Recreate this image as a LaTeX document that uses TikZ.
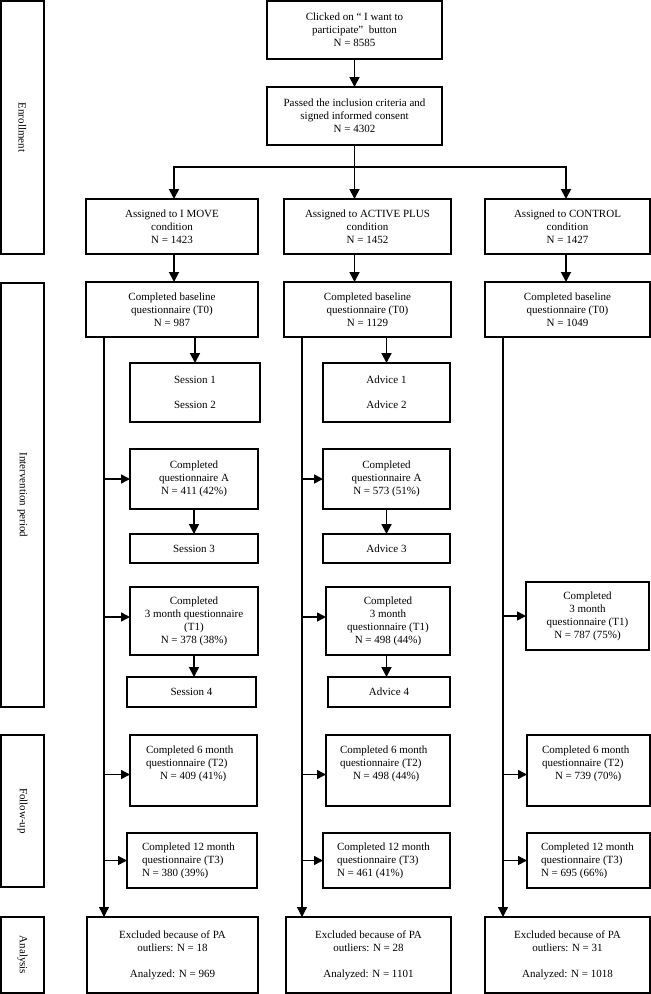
\documentclass[tikz,border=0pt]{standalone}
\usepackage{fontspec}
\setmainfont{Liberation Serif}
\usetikzlibrary{arrows.meta}
\begin{document}
\begin{tikzpicture}[x=1pt,y=-1pt,
  box/.style={draw, line width=1.8pt, inner sep=0pt, outer sep=0pt, align=center, font=\fontsize{11}{13}\selectfont},
  txt/.style={inner sep=0pt, outer sep=0pt, font=\fontsize{11}{13}\selectfont},
  conn/.style={line width=1.8pt},
  arr/.style={line width=1.8pt, -{Triangle[length=10pt,width=10pt]}},
  vline/.style={line width=1.3pt, -{Triangle[length=10pt,width=10pt]}},
  harr/.style={line width=1.5pt, -{Triangle[length=9pt,width=9pt]}},
]
\useasboundingbox (0,0) rectangle (651,994);

% stage labels
\node[box, minimum width=43pt, minimum height=253pt] (enr) at (22.5,127.5) {};
\node[txt, rotate=-90] (enrT) at (enr.center) {Enrollment};
\node[box, minimum width=43pt, minimum height=424pt] (int) at (22.5,495) {};
\node[txt, rotate=-90] (intT) at (int.center) {Intervention period};
\node[box, minimum width=43pt, minimum height=152pt] (fol) at (22.5,811) {};
\node[txt, rotate=-90] (folT) at (fol.center) {Follow-up};
\node[box, minimum width=43pt, minimum height=76pt] (ana) at (22.5,955) {};
\node[txt, rotate=-90] (anaT) at (ana.center) {Analysis};

% enrollment
\node[box, minimum width=175pt, minimum height=58pt] (top) at (354.5,30) {Clicked on “\ I want to\\participate”~ button\\N = 8585};
\node[box, minimum width=175pt, minimum height=58pt] (incl) at (354.5,116) {Passed the inclusion criteria and\\signed informed consent\\N = 4302};

\node[box, minimum width=172pt, minimum height=55pt] (asgL) at (172,226.5) {Assigned to I MOVE\\condition\\N = 1423};
\node[box, minimum width=167pt, minimum height=55pt] (asgM) at (367.5,226.5) {Assigned to ACTIVE PLUS\\condition\\N = 1452};
\node[box, minimum width=165pt, minimum height=55pt] (asgR) at (567.5,226.5) {Assigned to CONTROL\\condition\\N = 1427};

\node[box, minimum width=172pt, minimum height=55pt] (baseL) at (172,309.5) {Completed baseline\\questionnaire (T0)\\N = 987};
\node[box, minimum width=167pt, minimum height=55pt] (baseM) at (367.5,309.5) {Completed baseline\\questionnaire (T0)\\N = 1129};
\node[box, minimum width=165pt, minimum height=55pt] (baseR) at (567.5,309.5) {Completed baseline\\questionnaire (T0)\\N = 1049};

% intervention
\node[box, minimum width=130pt, minimum height=59pt] (s12) at (195,392.5) {Session 1\\[12pt]Session 2};
\node[box, minimum width=127pt, minimum height=59pt] (a12) at (386.5,392.5) {Advice 1\\[12pt]Advice 2};
\node[box, minimum width=128pt, minimum height=60pt] (qAL) at (194,479) {Completed\\questionnaire A\\N = 411 (42\%)};
\node[box, minimum width=127pt, minimum height=60pt] (qAM) at (386.5,479) {Completed\\questionnaire A\\N = 573 (51\%)};
\node[box, minimum width=128pt, minimum height=29pt] (s3) at (194,548.5) {Session 3};
\node[box, minimum width=127pt, minimum height=29pt] (a3) at (386.5,548.5) {Advice 3};
\node[box, minimum width=128pt, minimum height=68pt] (m3L) at (194,621) {Completed\\3 month questionnaire\\(T1)\\N = 378 (38\%)};
\node[box, minimum width=124pt, minimum height=68pt] (m3M) at (388,621) {Completed\\3 month\\questionnaire (T1)\\N = 498 (44\%)};
\node[box, minimum width=123pt, minimum height=68pt] (m3R) at (587.5,616) {Completed\\3 month\\questionnaire (T1)\\N = 787 (75\%)};
\node[box, minimum width=129pt, minimum height=30pt] (s4) at (191.5,692) {Session 4};
\node[box, minimum width=122pt, minimum height=30pt] (a4) at (389,692) {Advice 4};

% follow-up
\node[box, minimum width=127pt, minimum height=71pt] (m6L) at (193.5,770.5) {};
\node[box, minimum width=124pt, minimum height=71pt] (m6M) at (388,770.5) {};
\node[box, minimum width=123pt, minimum height=71pt] (m6R) at (588.5,770.5) {};
\node[txt, anchor=west, align=left] (m6LT) at ([xshift=16pt,yshift=7pt]m6L.west) {Completed 6 month\\questionnaire (T2)\\\hspace*{14pt}N = 409 (41\%)};
\node[txt, anchor=west, align=left] (m6MT) at ([xshift=14pt,yshift=7pt]m6M.west) {Completed 6 month\\questionnaire (T2)\\\hspace*{13pt}N = 498 (44\%)};
\node[txt, anchor=west, align=left] (m6RT) at ([xshift=15pt,yshift=7pt]m6R.west) {Completed 6 month\\questionnaire (T2)\\\hspace*{13pt}N = 739 (70\%)};

\node[box, minimum width=130pt, minimum height=55pt] (m12L) at (192,860.5) {};
\node[box, minimum width=127pt, minimum height=55pt] (m12M) at (386.5,860.5) {};
\node[box, minimum width=123pt, minimum height=55pt] (m12R) at (588.5,860.5) {};
\node[txt, anchor=west, align=left] (m12LT) at ([xshift=15pt]m12L.west) {Completed 12 month\\questionnaire (T3)\\N = 380 (39\%)};
\node[txt, anchor=west, align=left] (m12MT) at ([xshift=14pt]m12M.west) {Completed 12 month\\questionnaire (T3)\\N = 461 (41\%)};
\node[txt, anchor=west, align=left] (m12RT) at ([xshift=14pt]m12R.west) {Completed 12 month\\questionnaire (T3)\\N = 695 (66\%)};

% analysis
\node[box, minimum width=171pt, minimum height=76pt] (exL) at (172.5,955) {Excluded because of PA\\outliers: N = 18\\[13pt]Analyzed: N = 969};
\node[box, minimum width=165pt, minimum height=76pt] (exM) at (368.5,955) {Excluded because of PA\\outliers: N = 28\\[13pt]Analyzed: N = 1101};
\node[box, minimum width=165pt, minimum height=76pt] (exR) at (567.5,955) {Excluded because of PA\\outliers: N = 31\\[13pt]Analyzed: N = 1018};

% enrollment connectors
\draw[arr] (top.south -| incl.north) -- (incl.north);
\coordinate (jL) at (174,167);
\coordinate (jR) at (566,167);
\draw[arr] (incl.south |- jL) -- (jL) -- (jL |- asgL.north);
\draw[arr] (incl.south |- jR) -- (jR) -- (jR |- asgR.north);
\draw[arr] (incl.south) -- (incl.south |- asgM.north);
\draw[arr] (jL |- asgL.south) -- (jL |- baseL.north);
\draw[arr] (incl.south |- asgM.south) -- (incl.south |- baseM.north);
\draw[arr] (jR |- asgR.south) -- (jR |- baseR.north);

% within-column arrows
\draw[arr] (baseL.south -| s12.north) -- (s12.north);
\draw[arr] (qAL.south) -- (qAL.south |- s3.north);
\draw[arr] (m3L.south) -- (m3L.south |- s4.north);
\draw[arr] (baseM.south -| a12.north) -- (a12.north);
\draw[arr] (qAM.south) -- (qAM.south |- a3.north);
\draw[arr] (a3.south |- m3M.south) -- (a3.south |- a4.north);

% vertical spines
\path (baseL.south west) ++(18,0) coordinate (vL);
\path (baseM.south west) ++(18,0) coordinate (vM);
\path (baseR.south west) ++(18,0) coordinate (vR);
\draw[vline] (vL) -- (vL |- exL.north);
\draw[vline] (vM) -- (vM |- exM.north);
\draw[vline] (vR) -- (vR |- exR.north);

\coordinate (m3Lin) at ([yshift=4pt]m3L.west);
\coordinate (m3Min) at ([yshift=4pt]m3M.west);
\coordinate (m6Lin) at ([yshift=-4pt]m6L.west);
\coordinate (m6Min) at ([yshift=-4pt]m6M.west);
\coordinate (m6Rin) at ([yshift=-4pt]m6R.west);

\draw[harr] (vL |- qAL.west) -- (qAL.west);
\draw[harr] (vL |- m3Lin) -- (m3Lin);
\draw[harr] (vL |- m6Lin) -- (m6Lin);
\draw[harr] (vL |- m12L.west) -- (m12L.west);

\draw[harr] (vM |- qAM.west) -- (qAM.west);
\draw[harr] (vM |- m3Min) -- (m3Min);
\draw[harr] (vM |- m6Min) -- (m6Min);
\draw[harr] (vM |- m12M.west) -- (m12M.west);

\draw[harr] (vR |- m3R.west) -- (m3R.west);
\draw[harr] (vR |- m6Rin) -- (m6Rin);
\draw[harr] (vR |- m12R.west) -- (m12R.west);
\end{tikzpicture}
\end{document}
